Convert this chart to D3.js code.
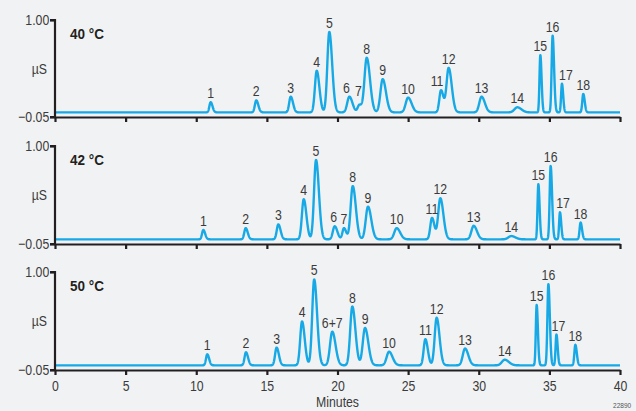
<!DOCTYPE html>
<html><head><meta charset="utf-8">
<script src="https://cdn.jsdelivr.net/npm/d3@7"></script>
<style>
html,body{margin:0;padding:0;background:#f1f2f4;}
svg{display:block;}
text{font-family:"Liberation Sans",Arial,Helvetica,sans-serif;}
</style></head>
<body>
<svg id="chart" width="636" height="411"></svg>
<script>
// ---------- data ----------
const panelTitles = ["40 \u00B0C", "42 \u00B0C", "50 \u00B0C"];
const xTicks = [0, 5, 10, 15, 20, 25, 30, 35, 40];
const yTickLabels = ["1.00", "\u22120.05"];
const yTickValues = [1.00, -0.05];
const yUnit = "\u00B5S";
const xTitle = "Minutes";
const cornerNote = "22890";

const labels40 = ["1","2","3","4","5","6","7","8","9","10","11","12","13","14","15","16","17","18"];
const time40   = [11.02,14.25,16.69,18.53,19.42,20.84,21.55,22.07,23.20,25.00,27.33,27.87,30.20,32.73,34.36,35.23,35.89,37.40];
const height40 = [0.11,0.13,0.17,0.45,0.87,0.17,0.08,0.59,0.36,0.16,0.24,0.48,0.17,0.055,0.62,0.83,0.31,0.20];
const width40  = [0.09,0.10,0.11,0.13,0.14,0.15,0.12,0.16,0.16,0.17,0.12,0.15,0.16,0.20,0.06,0.07,0.06,0.07];

const labels42 = ["1","2","3","4","5","6","7","8","9","10","11","12","13","14","15","16","17","18"];
const time42   = [10.50,13.50,15.81,17.61,18.48,19.80,20.46,21.08,22.16,24.19,26.69,27.28,29.64,32.30,34.22,35.09,35.75,37.21];
const height42 = [0.10,0.12,0.16,0.43,0.85,0.14,0.12,0.57,0.35,0.12,0.23,0.44,0.145,0.035,0.59,0.785,0.29,0.18];
const width42  = [0.09,0.10,0.11,0.13,0.14,0.13,0.11,0.15,0.16,0.17,0.12,0.15,0.16,0.20,0.06,0.07,0.06,0.07];

const labels50 = ["1","2","3","4","5","6+7","8","9","10","11","12","13","14","15","16","17","18"];
const time50   = [10.78,13.52,15.69,17.49,18.35,19.63,21.05,21.95,23.65,26.22,27.02,29.03,31.84,34.10,34.93,35.50,36.84];
const height50 = [0.118,0.14,0.19,0.47,0.92,0.36,0.63,0.40,0.146,0.28,0.51,0.18,0.06,0.646,0.87,0.33,0.22];
const width50  = [0.09,0.10,0.11,0.13,0.14,0.16,0.15,0.16,0.17,0.12,0.14,0.16,0.20,0.06,0.07,0.06,0.07];

// label nudges (layout, px)
const nudge40 = {"11":[-4,0],"17":[4,0],"6":[-3,0],"7":[-1,0]};
const nudge42 = {"6":[-1,0],"7":[0,0],"17":[3,0]};
const nudge50 = {"17":[2,0]};

// ---------- layout ----------
const svg = d3.select("#chart");
const left = 55, right = 620;
const panelTops = [20, 146, 272];
const panelBottoms = [117, 244, 370];
const lineColor = "#16a9e6";
const axisColor = "#231f20";
const textColor = "#3b3b3b";
const SX = 0.82; // condensed look

const x = d3.scaleLinear().domain([0, 40]).range([left, right]);

const panels = [
  {title: panelTitles[0], labels: labels40, t: time40, h: height40, w: width40, nudge: nudge40},
  {title: panelTitles[1], labels: labels42, t: time42, h: height42, w: width42, nudge: nudge42},
  {title: panelTitles[2], labels: labels50, t: time50, h: height50, w: width50, nudge: nudge50}
];

const tail = 1.45;
function signal(p, m) {
  let s = 0;
  for (let i = 0; i < p.t.length; i++) {
    const d = m - p.t[i];
    const sg = d < 0 ? p.w[i] : p.w[i] * tail;
    s += p.h[i] * Math.exp(-0.5 * (d / sg) * (d / sg));
  }
  return s;
}

function ntext(sel, tx, ty, str, opts) {
  opts = opts || {};
  return sel.append("text")
    .attr("transform", `translate(${tx},${ty}) scale(${opts.sx || SX},1)`)
    .attr("text-anchor", opts.anchor || "start")
    .attr("font-size", opts.size || 15)
    .attr("font-weight", opts.weight || "normal")
    .attr("fill", opts.fill || textColor)
    .text(str);
}

const grid = d3.range(0, 40.0001, 0.01);

panels.forEach((p, k) => {
  const y = d3.scaleLinear().domain([-0.05, 1.00]).range([panelBottoms[k], panelTops[k]]);
  const g = svg.append("g");

  const line = d3.line().x(d => x(d)).y(d => y(signal(p, d)));
  g.append("path").datum(grid).attr("d", line)
    .attr("fill", "none").attr("stroke", lineColor).attr("stroke-width", 2.4)
    .attr("stroke-linejoin", "round");

  // y axis
  const yAxis = d3.axisLeft(y).tickValues(yTickValues).tickSize(5).tickFormat((d, i) => yTickLabels[i]).tickPadding(2);
  const ya = g.append("g").attr("transform", `translate(${left},0)`).call(yAxis);
  ya.select(".domain").attr("d", `M-5,${y(1)}H0V${y(-0.05)}H-5`).attr("stroke", axisColor).attr("stroke-width", 2.2);
  ya.selectAll(".tick line").attr("stroke", axisColor).attr("stroke-width", 2.2);
  ya.selectAll(".tick text").attr("font-size", 15).attr("fill", textColor)
    .attr("font-family", "Liberation Sans, Arial, sans-serif")
    .attr("transform", `scale(${SX},1)`);

  // x axis
  const xAxis = d3.axisBottom(x).tickValues(xTicks).tickSize(5).tickSizeOuter(0).tickPadding(5)
    .tickFormat(k === 2 ? d3.format("d") : () => "");
  const xa = g.append("g").attr("transform", `translate(0,${panelBottoms[k]})`).call(xAxis);
  xa.select(".domain").attr("stroke", axisColor).attr("stroke-width", 2.2);
  xa.selectAll(".tick line").attr("stroke", axisColor).attr("stroke-width", 2.2);
  xa.selectAll(".tick text").attr("font-size", 15).attr("fill", textColor)
    .attr("font-family", "Liberation Sans, Arial, sans-serif")
    .attr("transform", `scale(${SX},1)`);

  // unit label
  ntext(g, left - 8, (y(1) + y(-0.05)) / 2 + 5, yUnit, {anchor: "end"});

  // panel title
  ntext(g, left + 15, panelTops[k] + 19, p.title, {weight: "bold", size: 14.5, sx: 0.93, fill: "#231f20"});

  // peak labels
  p.labels.forEach((d, i) => {
    const nx = p.nudge[d] ? p.nudge[d][0] : 0;
    const ny = p.nudge[d] ? p.nudge[d][1] : 0;
    const extra = (d === "7" && k === 0) ? 0.05 : 0;
    ntext(g, x(p.t[i]) + nx, y(p.h[i] + extra) - 4 + ny, d, {anchor: "middle"});
  });
});

// x title
ntext(svg, (left + right) / 2, 406.5, xTitle, {anchor: "middle"});

// corner note
ntext(svg, 613, 408, cornerNote, {size: 8, fill: "#555"});
</script>
</body></html>
